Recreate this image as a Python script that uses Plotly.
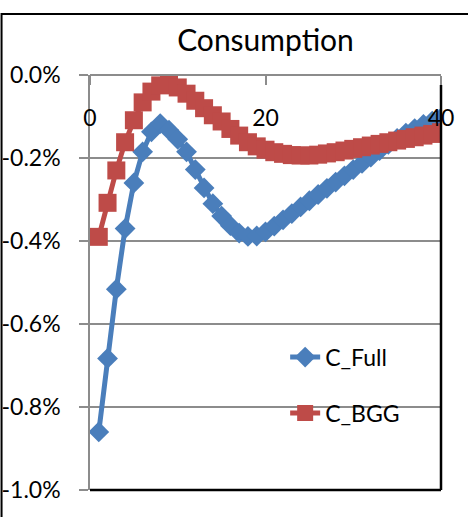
import plotly.graph_objects as go

periods = list(range(1, 41))
c_full = [-0.860, -0.683, -0.516, -0.370, -0.260, -0.185, -0.137, -0.117, -0.133, -0.155,
          -0.185, -0.228, -0.272, -0.310, -0.340, -0.363, -0.381, -0.389, -0.388, -0.378,
          -0.364, -0.349, -0.334, -0.318, -0.303, -0.288, -0.273, -0.258, -0.243, -0.228,
          -0.213, -0.198, -0.182, -0.167, -0.153, -0.140, -0.129, -0.119, -0.111, -0.104]
c_bgg = [-0.390, -0.308, -0.230, -0.162, -0.109, -0.066, -0.040, -0.025, -0.022, -0.030,
         -0.045, -0.062, -0.080, -0.097, -0.112, -0.130, -0.146, -0.162, -0.172, -0.180,
         -0.186, -0.190, -0.193, -0.194, -0.194, -0.192, -0.189, -0.186, -0.182, -0.178,
         -0.174, -0.170, -0.166, -0.162, -0.158, -0.154, -0.150, -0.146, -0.142, -0.138]
y_ticks = [0.0, -0.2, -0.4, -0.6, -0.8, -1.0]
y_tick_labels = ["0.0%", "-0.2%", "-0.4%", "-0.6%", "-0.8%", "-1.0%"]
x_ticks = [0, 20, 40]
x_tick_labels = ["0", "20", "40"]

BLUE = "#4A7EBB"
RED = "#BE4B48"
GRID = "#8C8C8C"
FONT = "Lato"

fig = go.Figure()
fig.add_trace(go.Scatter(x=periods, y=c_full, name="C_Full", mode="lines+markers",
                         legendgroup="a",
                         line=dict(color=BLUE, width=5),
                         marker=dict(symbol="diamond", size=16, color=BLUE)))
fig.add_trace(go.Scatter(x=periods, y=c_bgg, name="C_BGG", mode="lines+markers",
                         legendgroup="b",
                         line=dict(color=RED, width=5),
                         marker=dict(symbol="square", size=18, color=RED)))

fig.update_layout(
    width=468, height=517,
    margin=dict(l=90, r=27, t=75, b=27, autoexpand=False),
    paper_bgcolor="white", plot_bgcolor="white",
    font=dict(family=FONT, size=23, color="black"),
    title=dict(text="Consumption", x=0.5, xref="paper", xanchor="center",
               y=1 - 40 / 517, yref="container", yanchor="middle",
               font=dict(family=FONT, size=30, color="black")),
    showlegend=True,
    legend=dict(x=0.556, y=0.372, xanchor="left", yanchor="top",
                bgcolor="rgba(0,0,0,0)", traceorder="grouped", tracegroupgap=23,
                font=dict(family=FONT, size=23, color="black")),
    xaxis=dict(range=[0, 40], tickvals=x_ticks, ticktext=x_tick_labels,
               anchor="free", position=1, side="bottom", automargin=False,
               showgrid=False, zeroline=False, showline=True, linecolor=GRID, linewidth=1.5,
               ticks="outside", ticklen=9, tickcolor=GRID, tickwidth=1.5,
               ticklabelstandoff=14, tickfont=dict(family=FONT, size=23)),
    yaxis=dict(range=[-1.0, 0.0], tickvals=y_ticks, ticktext=y_tick_labels, automargin=False,
               showgrid=True, gridcolor=GRID, gridwidth=1.5, zeroline=False,
               showline=True, linecolor=GRID, linewidth=1.5,
               ticks="outside", ticklen=9, tickcolor=GRID, tickwidth=1.5,
               ticklabelstandoff=14, tickfont=dict(family=FONT, size=23)),
    shapes=[
        dict(type="line", xref="x domain", yref="y domain", x0=0, x1=1, y0=0, y1=0,
             line=dict(color="black", width=2.5)),
        dict(type="line", xref="x domain", yref="y domain", x0=1, x1=1, y0=0, y1=0.976,
             line=dict(color="black", width=2.5)),
        dict(type="rect", xref="paper", yref="paper", x0=-0.252, x1=1.1, y0=-0.1, y1=1.147,
             line=dict(color="black", width=2), fillcolor="rgba(0,0,0,0)"),
    ],
)

fig.write_html("out.html", config={"displayModeBar": False},
               post_script="document.body.style.margin='0px';document.body.style.padding='0px';")
